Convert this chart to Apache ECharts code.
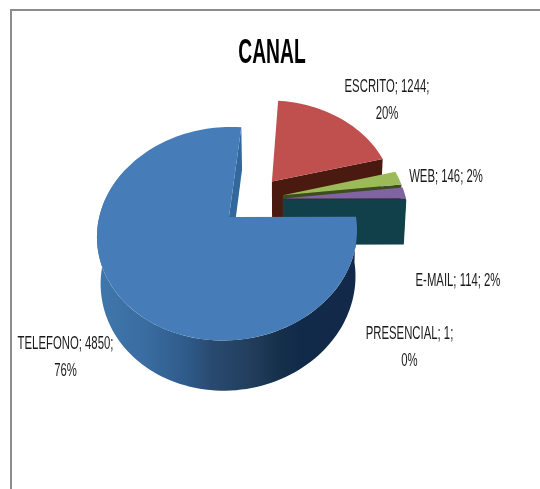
<!DOCTYPE html>
<html>
<head>
<meta charset="utf-8">
<style>html,body{margin:0;padding:0;background:#fff}#chart{width:540px;height:489px}</style>
<script src="https://cdn.jsdelivr.net/npm/echarts@6/dist/echarts.min.js"></script>
</head>
<body>
<div id="chart"></div>
<script>
// Contact channels and their ticket counts
const categories = ['TELEFONO', 'ESCRITO', 'WEB', 'E-MAIL', 'PRESENCIAL'];
const values = [4850, 1244, 146, 114, 1];
const shares = [76, 20, 2, 2, 0];

// Surface colours of each slice
const topColors = ['#467db9', '#c0504d', '#9bbb59', '#8064a2', '#4bacc6'];
const sideColors = ['#33689c', '#4a1a10', '#3e4c22', '#33284a', '#11404a'];

// Label anchors (centre x, centre y of the first line) and line breaks
const labelX = [65.5, 387, 446, 458, 409.5];
const labelY = [344, 87, 177, 281, 334];
const labelBreak = [true, true, false, false, true];

// Tilted, perspective-projected disc
const view = { cx: 252.5, cy: 199.8, rx: 124.6, ry: 98.7, k: 0.152, h: 0.01,
               explode: 0.25, depth: 45, footX: 280, footShrink: 0.02 };

const FONT_STACK = '"Liberation Sans", Arial, sans-serif';
const total = values.reduce((a, b) => a + b, 0);
const startDeg = 90;

function sliceAngles(i) {
  let sum = 0;
  for (let j = 0; j < i; j++) sum += values[j];
  const a0 = startDeg + sum / total * 360;
  return [a0, a0 + values[i] / total * 360];
}

function project(u, v) {
  const w = 1 + view.k * v + view.h * u;
  return { x: view.cx + view.rx * u / w, y: view.cy - view.ry * v / w, w };
}
function topPoint(u, v) {
  const p = project(u, v);
  return [p.x, p.y];
}
function footPoint(u, v) {
  const p = project(u, v);
  return [p.x + (view.footX - p.x) * view.footShrink,
          p.y + view.depth / Math.pow(p.w, 0.55)];
}

function renderSlice(params, api) {
  const i = api.value(0);
  const [a0, a1] = sliceAngles(i);
  const mid = (a0 + a1) / 2 * Math.PI / 180;
  const ou = view.explode * Math.sin(mid);
  const ov = view.explode * Math.cos(mid);
  const at = deg => {
    const r = deg * Math.PI / 180;
    return [ou + Math.sin(r), ov + Math.cos(r)];
  };
  const order = i === 0 ? values.length : i;
  const children = [];

  // Radial wall on the clockwise end of the slice
  const endPt = at(a1);
  children.push({
    type: 'polygon', z2: order,
    shape: { points: [topPoint(ou, ov), topPoint(endPt[0], endPt[1]),
                      footPoint(endPt[0], endPt[1]), footPoint(ou, ov)] },
    style: { fill: sideColors[i] }
  });

  // Outer wall where the rim faces the viewer; runs a little past the
  // widest point so the silhouette stays continuous behind the top face
  const rimFrom = Math.max(a0, 90), rimTo = Math.min(a1, 300);
  if (rimTo > rimFrom + 1) {
    const upper = [], lower = [];
    for (let d = rimFrom; d <= rimTo; d += 2) {
      const p = at(d);
      upper.push(topPoint(p[0], p[1]));
      lower.unshift(footPoint(p[0], p[1]));
    }
    children.push({
      type: 'polygon', z2: order,
      shape: { points: upper.concat(lower) },
      style: {
        fill: new echarts.graphic.LinearGradient(0, 0, 1, 0, [
          { offset: 0, color: '#4078ac' },
          { offset: 0.19, color: '#3a6ca0' },
          { offset: 0.34, color: '#2f5b8b' },
          { offset: 0.44, color: '#294a70' },
          { offset: 0.58, color: '#223f5e' },
          { offset: 0.7, color: '#15304a' },
          { offset: 0.78, color: '#122a4a' },
          { offset: 1, color: '#12294a' }
        ])
      }
    });
  }

  // Top face
  const face = [topPoint(ou, ov)];
  const steps = Math.max(2, Math.ceil((a1 - a0) / 2));
  for (let s = 0; s <= steps; s++) {
    const p = at(a0 + (a1 - a0) * s / steps);
    face.push(topPoint(p[0], p[1]));
  }
  children.push({
    type: 'polygon', z2: order + 0.5,
    shape: { points: face },
    style: { fill: topColors[i] }
  });

  // Data label, condensed horizontally
  const line1 = categories[i] + '; ' + values[i] + ';';
  const text = labelBreak[i]
    ? line1 + '\n' + shares[i] + '%'
    : line1 + ' ' + shares[i] + '%';
  children.push({
    type: 'text', z2: 20,
    x: labelX[i], y: labelY[i] - 13.5,
    scaleX: 0.63,
    style: {
      text, fill: '#1a1a1a', align: 'center', verticalAlign: 'top',
      font: '18px ' + FONT_STACK,
      lineHeight: 27
    }
  });

  return { type: 'group', children };
}

const chart = echarts.init(document.getElementById('chart'), null, { renderer: 'canvas' });
chart.setOption({
  animation: false,
  backgroundColor: '#ffffff',
  graphic: [{
    type: 'polyline', silent: true,
    shape: { points: [[11, 489], [11, 10], [540, 10]] },
    style: { stroke: '#8c8c8c', lineWidth: 2, fill: null }
  }, {
    type: 'text', silent: true,
    x: 272, y: 53, scaleX: 0.55,
    style: { text: 'CANAL', align: 'center', verticalAlign: 'middle',
             font: 'bold 35px ' + FONT_STACK, fill: '#000' }
  }],
  series: [{
    type: 'custom',
    coordinateSystem: 'none',
    renderItem: renderSlice,
    data: values.map((v, i) => [i, v])
  }]
});
</script>
</body>
</html>
